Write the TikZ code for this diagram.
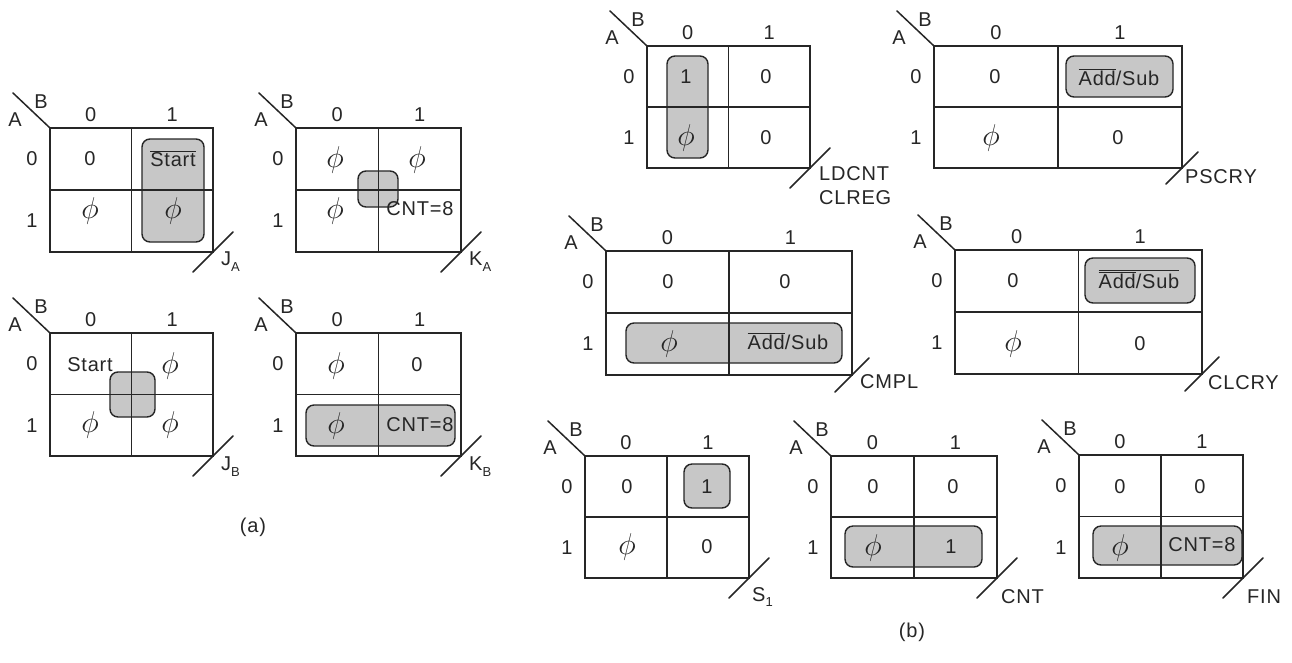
\documentclass[tikz,border=0pt]{standalone}
\usepackage{graphicx}
\usepackage{fontspec}
\setmainfont{Liberation Sans}[LetterSpace=4]
\newcommand{\lowsub}[1]{\raisebox{-0.55ex}{\fontsize{13}{13}\selectfont #1}}
\newcommand{\ph}{\scalebox{1.45}{$\phi$}}
\newcommand{\kmap}[6]{%
\begin{scope}[shift={(#2,#3)}]
\draw[kline] (0,0) rectangle (#4,#5);
\draw[kline] ({#4/2},0) -- ({#4/2},#5);
\draw[kline] (0,{#5/2}) -- (#4,{#5/2});
\coordinate (#1-o) at (0,0);
\coordinate (#1-d) at (-37,-35);
\draw[kline] (#1-o) -- (#1-d);
\node[txt] (#1-A) at (-35,-8) {A};
\node[txt] (#1-B) at (-9,-26) {B};
\node[txt] (#1-c0) at ({#4/4},-13) {0};
\node[txt] (#1-c1) at ({3*#4/4},-13) {1};
\node[txt] (#1-r0) at (-18,{#5/4}) {0};
\node[txt] (#1-r1) at (-18,{3*#5/4}) {1};
\coordinate (#1-s0) at ({#4-#6},{#5+#6});
\coordinate (#1-s1) at ({#4+#6},{#5-#6});
\draw[kline] (#1-s0) -- (#1-s1);
\end{scope}}
\begin{document}
\begin{tikzpicture}[x=1pt,y=-1pt,
  kline/.style={line width=1.5pt, draw=black!85, line cap=round},
  txt/.style={font=\fontsize{20}{23}\selectfont, inner sep=0pt, text=black!85},
  outl/.style={txt, anchor=west},
  lump/.style={draw=black!85, fill=black!22, line width=1.4pt, rounded corners=8pt}]
\useasboundingbox[fill=white] (0,0) rectangle (1292,662);

% shaded groups
\draw[lump] (142,139) rectangle (204,242);
\draw[lump] (358,171) rectangle (398,207);
\draw[lump] (110,372) rectangle (155,417);
\draw[lump] (306,405) rectangle (455,446);
\draw[lump] (667,56) rectangle (708,158);
\draw[lump] (1066,56) rectangle (1173,97);
\draw[lump] (626,323) rectangle (842,363);
\draw[lump] (1085,258) rectangle (1195,303);
\draw[lump] (684,464) rectangle (730,508);
\draw[lump] (845,526) rectangle (982,567);
\draw[lump] (1093,526) rectangle (1242,565);

% ---------- (a) ----------
\kmap{ja}{50}{128}{163}{124}{20}
\node[txt] (ja00) at (90,159) {0};
\node[txt] (ja01) at (173,159) {$\overline{\hbox{Start}}$};
\node[txt] (ja10) at (90,211) {\ph};
\node[txt] (ja11) at (173,211) {\ph};
\node[outl] (jaout) at (221,262) {J\lowsub{A}};

\kmap{ka}{296}{128}{165}{124}{20}
\node[txt] (ka00) at (335,160) {\ph};
\node[txt] (ka01) at (417,160) {\ph};
\node[txt] (ka10) at (335,211) {\ph};
\node[txt] (ka11) at (420,209) {CNT=8};
\node[outl] (kaout) at (469,262) {K\lowsub{A}};

\kmap{jb}{50}{333}{163}{123}{20}
\node[txt] (jb00) at (90,365) {Start};
\node[txt] (jb01) at (170,366) {\ph};
\node[txt] (jb10) at (90,425) {\ph};
\node[txt] (jb11) at (170,425) {\ph};
\node[outl] (jbout) at (221,467) {J\lowsub{B}};

\kmap{kb}{296}{333}{165}{123}{20}
\node[txt] (kb00) at (336,366) {\ph};
\node[txt] (kb01) at (417,365) {0};
\node[txt] (kb10) at (336,426) {\ph};
\node[txt] (kb11) at (420,425) {CNT=8};
\node[outl] (kbout) at (469,467) {K\lowsub{B}};

\node[txt] (capa) at (253,527) {(a)};

% ---------- (b) ----------
\kmap{ld}{647}{46}{163}{122}{20}
\node[txt] (ld00) at (686,77) {1};
\node[txt] (ld01) at (766,77) {0};
\node[txt] (ld10) at (686,138) {\ph};
\node[txt] (ld11) at (766,138) {0};
\node[txt, anchor=north west, align=left] (ldout) at (819,166) {LDCNT\\[1pt]CLREG};

\kmap{ps}{934}{46}{248}{122}{16}
\node[txt] (ps00) at (995,77) {0};
\node[txt] (ps01) at (1119,77) {$\overline{\hbox{Add}}\hbox{/Sub}$};
\node[txt] (ps10) at (991,138) {\ph};
\node[txt] (ps11) at (1118,138) {0};
\node[outl] (psout) at (1185,177) {PSCRY};

\kmap{cm}{606}{251}{246}{124}{17}
\node[txt] (cm00) at (668,282) {0};
\node[txt] (cm01) at (785,282) {0};
\node[txt] (cm10) at (669,344) {\ph};
\node[txt] (cm11) at (788,341) {$\overline{\hbox{Add}}\hbox{/Sub}$};
\node[outl] (cmout) at (860,382) {CMPL};

\kmap{cl}{955}{250}{247}{124}{17}
\node[txt] (cl00) at (1013,281) {0};
\node[txt] (cl01) at (1139,279) {$\overline{\overline{\hbox{Add}}\hbox{/Sub}}$};
\node[txt] (cl10) at (1013,344) {\ph};
\node[txt] (cl11) at (1140,344) {0};
\node[outl] (clout) at (1208,383) {CLCRY};

\kmap{sa}{585}{456}{164}{122}{20}
\node[txt] (sa00) at (627,487) {0};
\node[txt] (sa01) at (707,487) {1};
\node[txt] (sa10) at (627,547) {\ph};
\node[txt] (sa11) at (707,547) {0};
\node[outl] (saout) at (752,597) {S\lowsub{1}};

\kmap{cn}{831}{456}{166}{122}{20}
\node[txt] (cn00) at (873,487) {0};
\node[txt] (cn01) at (953,487) {0};
\node[txt] (cn10) at (873,548) {\ph};
\node[txt] (cn11) at (951,547) {1};
\node[outl] (cnout) at (1001,597) {CNT};

\kmap{fi}{1079}{455}{164}{123}{20}
\node[txt] (fi00) at (1120,487) {0};
\node[txt] (fi01) at (1200,487) {0};
\node[txt] (fi10) at (1120,548) {\ph};
\node[txt] (fi11) at (1202,545) {CNT=8};
\node[outl] (fiout) at (1247,597) {FIN};

\node[txt] (capb) at (912,632) {(b)};
\end{tikzpicture}
\end{document}
